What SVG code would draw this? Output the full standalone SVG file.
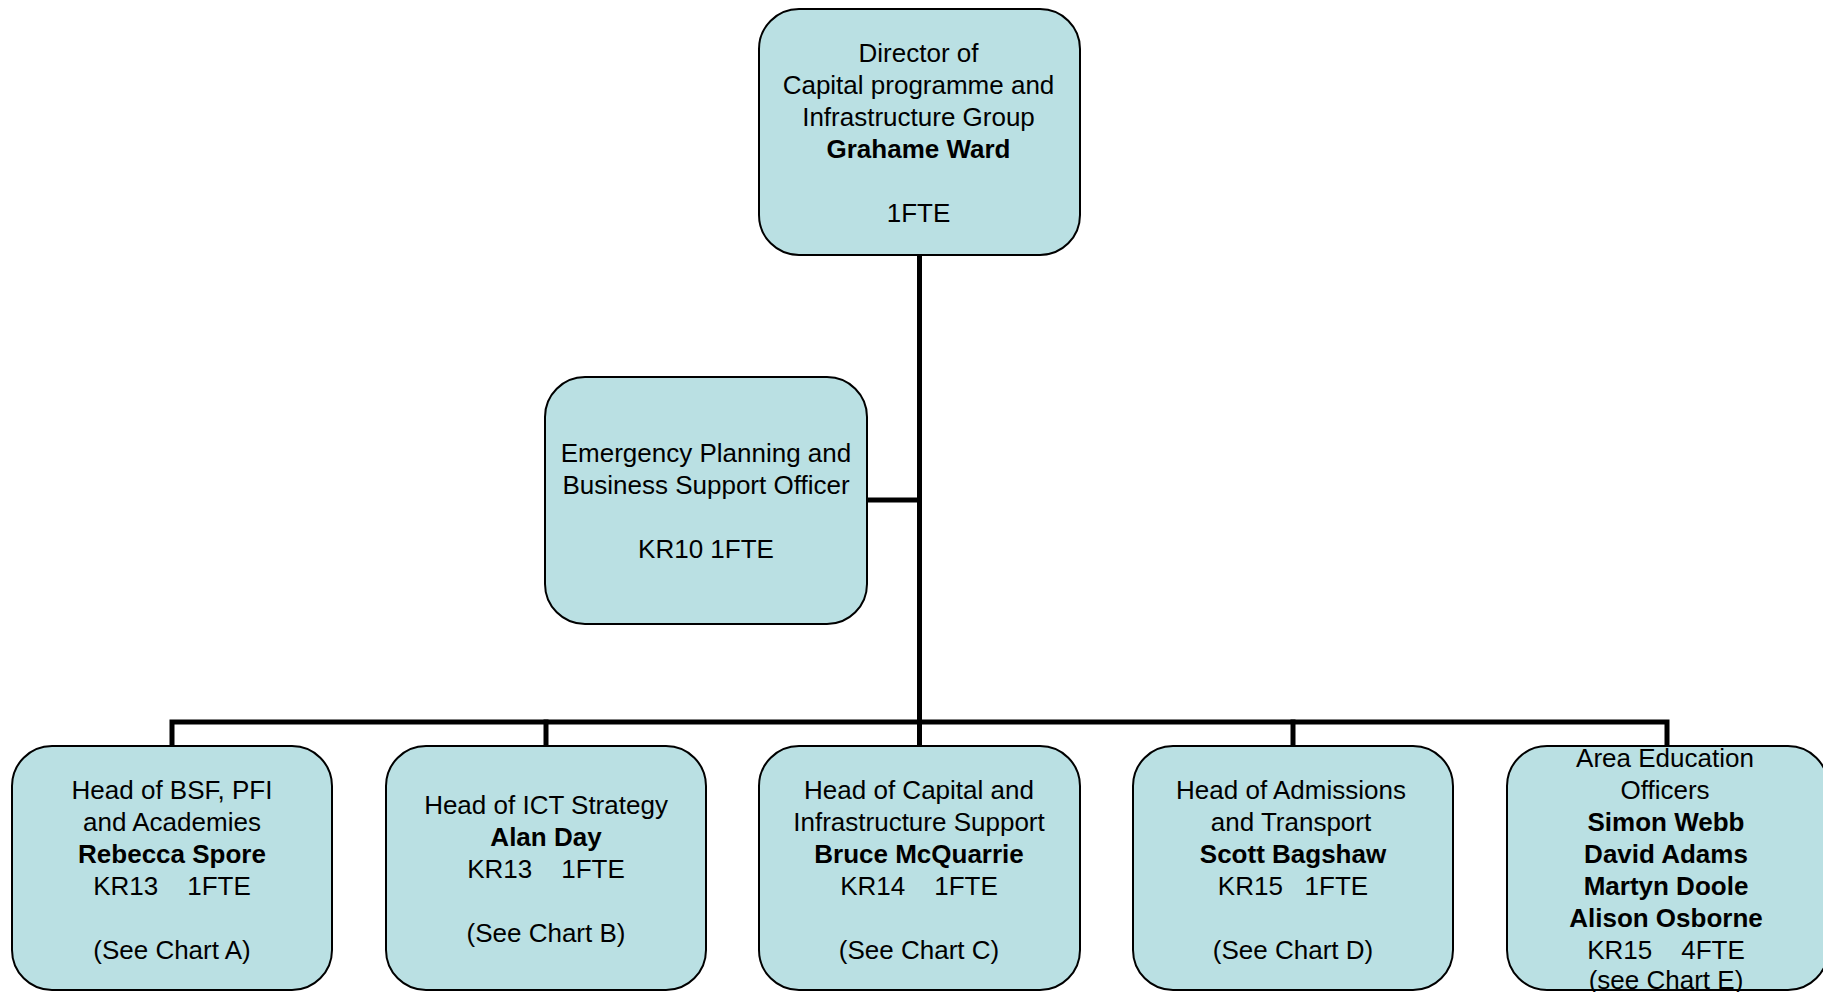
<svg xmlns="http://www.w3.org/2000/svg" width="1823" height="992" viewBox="0 0 1823 992">
<style>
.box{fill:#BAE0E3;stroke:#000;stroke-width:2}
.t{font-family:"Liberation Sans",Arial,sans-serif;font-size:26px;fill:#000;text-anchor:middle}
.b{font-weight:bold}
.c{fill:none;stroke:#000;stroke-width:5;stroke-linecap:square}
</style>
<rect x="0" y="0" width="1823" height="992" fill="#fff"/>
<g id="connectors">
<line class="c" x1="919.5" y1="255" x2="919.5" y2="722"/>
<line class="c" x1="867" y1="500" x2="919.5" y2="500"/>
<polyline class="c" points="172,746 172,722 1667,722 1667,746"/>
<line class="c" x1="546" y1="722" x2="546" y2="746"/>
<line class="c" x1="919.5" y1="722" x2="919.5" y2="746"/>
<line class="c" x1="1293" y1="722" x2="1293" y2="746"/>
</g>
<g id="director">
<rect class="box" x="759" y="9" width="321" height="246" rx="40"/>
<text class="t" x="918.5" y="62">Director of</text>
<text class="t" x="918.5" y="94">Capital programme and</text>
<text class="t" x="918.5" y="126">Infrastructure Group</text>
<text class="t b" x="918.5" y="158">Grahame Ward</text>
<text class="t" x="918.5" y="222">1FTE</text>
</g>
<g id="emergency">
<rect class="box" x="545" y="377" width="322" height="247" rx="40"/>
<text class="t" x="706" y="462">Emergency Planning and</text>
<text class="t" x="706" y="494">Business Support Officer</text>
<text class="t" x="706" y="558">KR10 1FTE</text>
</g>
<g id="bsf">
<rect class="box" x="12" y="746" width="320" height="244" rx="40"/>
<text class="t" x="172" y="799">Head of BSF, PFI</text>
<text class="t" x="172" y="831">and Academies</text>
<text class="t b" x="172" y="863">Rebecca Spore</text>
<text class="t" x="172" y="895">KR13&#160;&#160;&#160;&#160;1FTE</text>
<text class="t" x="172" y="959">(See Chart A)</text>
</g>
<g id="ict">
<rect class="box" x="386" y="746" width="320" height="244" rx="40"/>
<text class="t" x="546" y="814">Head of ICT Strategy</text>
<text class="t b" x="546" y="846">Alan Day</text>
<text class="t" x="546" y="878">KR13&#160;&#160;&#160;&#160;1FTE</text>
<text class="t" x="546" y="942">(See Chart B)</text>
</g>
<g id="capital">
<rect class="box" x="759" y="746" width="321" height="244" rx="40"/>
<text class="t" x="919" y="799">Head of Capital and</text>
<text class="t" x="919" y="831">Infrastructure Support</text>
<text class="t b" x="919" y="863">Bruce McQuarrie</text>
<text class="t" x="919" y="895">KR14&#160;&#160;&#160;&#160;1FTE</text>
<text class="t" x="919" y="959">(See Chart C)</text>
</g>
<g id="admissions">
<rect class="box" x="1133" y="746" width="320" height="244" rx="40"/>
<text class="t" x="1291" y="799">Head of Admissions</text>
<text class="t" x="1291" y="831">and Transport</text>
<text class="t b" x="1293" y="863">Scott Bagshaw</text>
<text class="t" x="1293" y="895">KR15&#160;&#160;&#160;1FTE</text>
<text class="t" x="1293" y="959">(See Chart D)</text>
</g>
<g id="area">
<rect class="box" x="1507" y="746" width="321" height="244" rx="40"/>
<text class="t" x="1665" y="767">Area Education</text>
<text class="t" x="1665" y="799">Officers</text>
<text class="t b" x="1666" y="831">Simon Webb</text>
<text class="t b" x="1666" y="863">David Adams</text>
<text class="t b" x="1666" y="895">Martyn Doole</text>
<text class="t b" x="1666" y="927">Alison Osborne</text>
<text class="t" x="1666" y="959">KR15&#160;&#160;&#160;&#160;4FTE</text>
<text class="t" x="1666" y="989">(see Chart E)</text>
</g>
</svg>
